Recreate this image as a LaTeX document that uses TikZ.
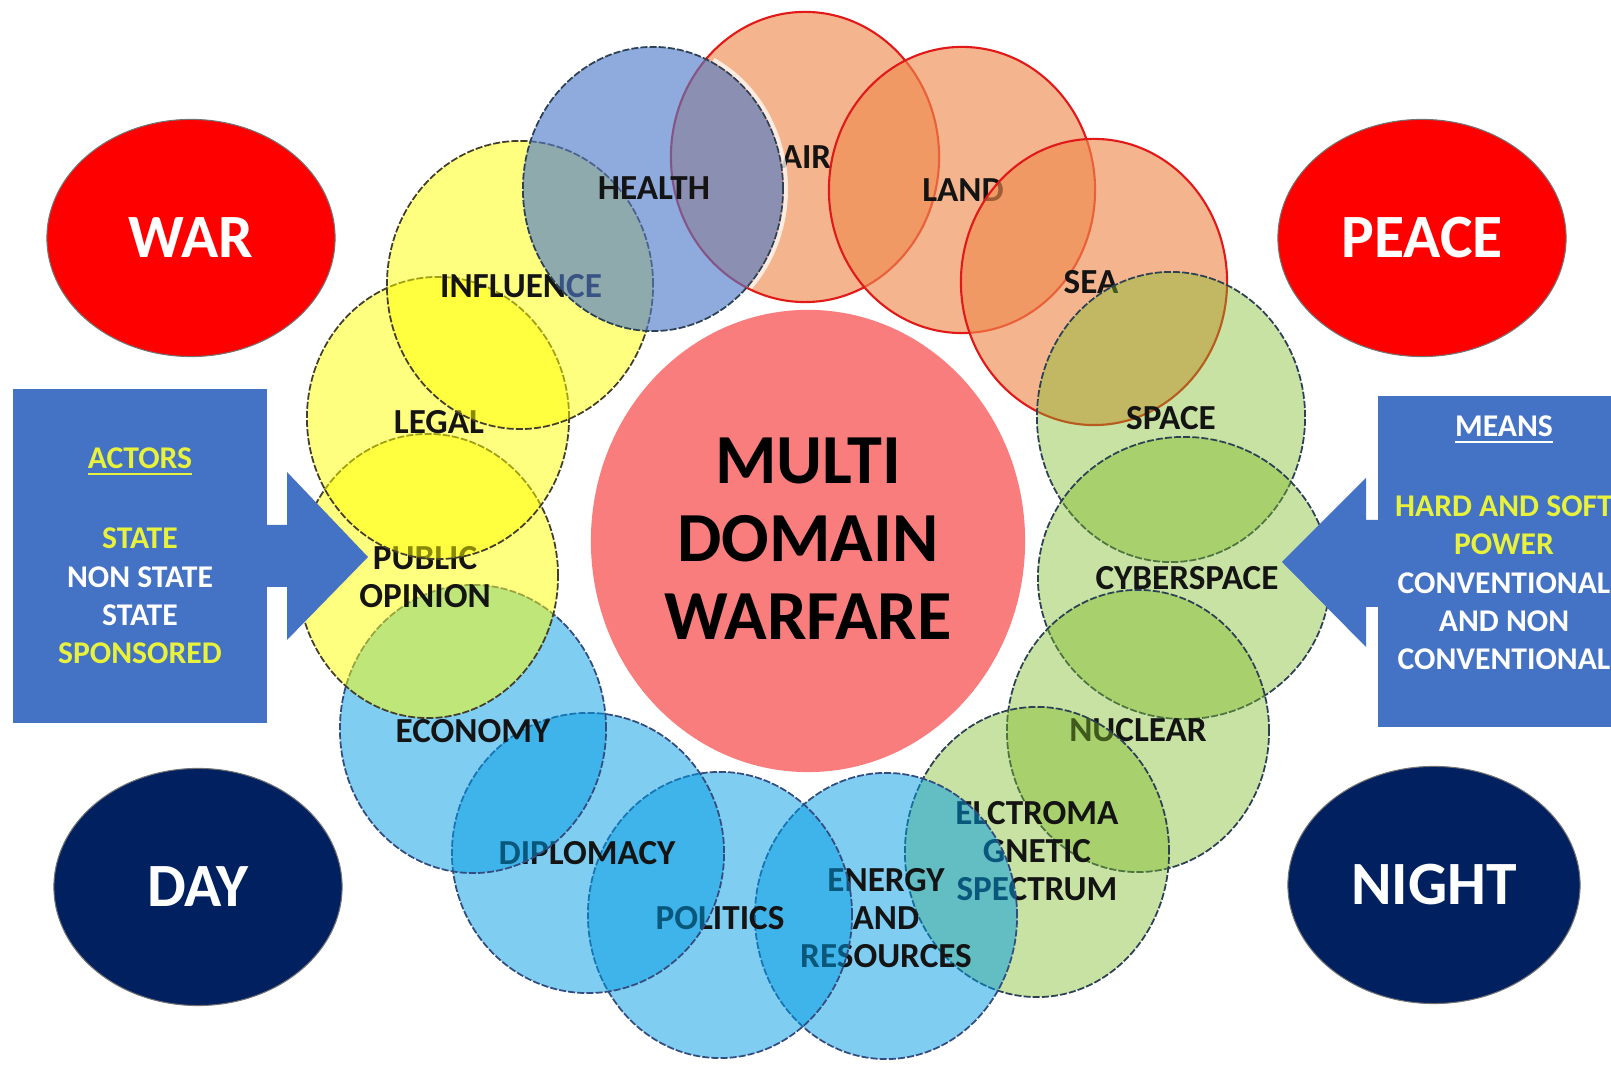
\documentclass[tikz,border=0pt]{standalone}
\usepackage{fontspec}
\setmainfont{Carlito}
\usetikzlibrary{shapes.geometric}
\definecolor{warred}{RGB}{255,0,0}
\definecolor{navyblue}{RGB}{0,32,96}
\definecolor{boxblue}{RGB}{68,114,196}
\definecolor{txtyellow}{RGB}{232,242,60}
\definecolor{mainpink}{RGB}{250,125,125}
\definecolor{orfill}{RGB}{238,138,77}
\definecolor{orline}{RGB}{225,25,25}
\definecolor{hfill}{RGB}{79,121,200}
\definecolor{yfill}{RGB}{255,255,0}
\definecolor{gfill}{RGB}{125,187,38}
\definecolor{bfill}{RGB}{0,156,229}
\definecolor{ringline}{RGB}{45,65,85}
\tikzset{
  cornerell/.style={ellipse, minimum width=2.88cm, minimum height=2.37cm, inner sep=0pt,
    draw=black!55, line width=0.3pt, text=white, font=\fontsize{17.5}{20}\selectfont\bfseries},
  dashring/.style={draw=ringline, line width=0.5pt, dash pattern=on 2pt off 0.6pt},
  orring/.style={fill=orfill, fill opacity=0.63, draw=orline, line width=0.6pt},
  hring/.style={dashring, fill=hfill, fill opacity=0.63},
  yring/.style={dashring, draw=black!70!olive, fill=yfill, fill opacity=0.5},
  gring/.style={dashring, fill=gfill, fill opacity=0.42},
  bring/.style={dashring, draw=navyblue!80, fill=bfill, fill opacity=0.5},
  lbl/.style={font=\fontsize{10}{10.9}\selectfont\bfseries, inner sep=0pt, align=center, text=black!92},
  maintxt/.style={font=\fontsize{20}{22.2}\selectfont\bfseries, inner sep=0pt, align=center, text=black},
  boxtxt/.style={font=\fontsize{9}{10.9}\selectfont\bfseries, inner sep=0pt, align=center, text=white},
  panel/.style={fill=boxblue, inner sep=0pt}
}
\begin{document}
\begin{tikzpicture}[x=0.01cm,y=-0.01cm]
\useasboundingbox (0,0) rectangle (1611,1065);
\clip (0,0) rectangle (1611,1065);
\fill[white] (0,0) rectangle (1611,1065);

% corner ellipses
\node[cornerell, fill=warred] (war) at (191,238) {WAR};
\node[cornerell, fill=warred] (peace) at (1422,238) {PEACE};
\node[cornerell, fill=navyblue] (day) at (198,887) {DAY};
\node[cornerell, fill=navyblue, minimum width=2.92cm] (night) at (1434,885) {NIGHT};

% central disc
\node[ellipse, fill=mainpink, minimum width=4.34cm, minimum height=4.62cm, inner sep=0pt] (core) at (808,541) {};
\node[maintxt] (coretxt) at (808,539) {MULTI\\DOMAIN\\WARFARE};

% ring of domains, drawn clockwise, each label under the next circle
\filldraw[orring] (805,157) ellipse [x radius=1.34cm, y radius=1.45cm];   % AIR
\node[lbl] (lair) at (806,157) {AIR};
\filldraw[orring] (962,190) ellipse [x radius=1.33cm, y radius=1.43cm];   % LAND
\node[lbl] (lland) at (963,190) {LAND};
\filldraw[orring] (1094,282) ellipse [x radius=1.33cm, y radius=1.43cm];  % SEA
\node[lbl] (lsea) at (1091,282) {SEA};
\filldraw[gring] (1171,417) ellipse [x radius=1.34cm, y radius=1.45cm];   % SPACE
\node[lbl] (lspace) at (1171,418) {SPACE};
\filldraw[gring] (1184,578) ellipse [x radius=1.46cm, y radius=1.41cm];   % CYBERSPACE
\node[lbl] (lcyber) at (1187,578) {CYBERSPACE};
\filldraw[gring] (1138,731) ellipse [x radius=1.31cm, y radius=1.41cm];   % NUCLEAR
\node[lbl] (lnuc) at (1138,730) {NUCLEAR};
\filldraw[gring] (1037,852) ellipse [x radius=1.32cm, y radius=1.45cm];   % ELECTROMAGNETIC
\node[lbl] (lelec) at (1037,851) {ELCTROMA\\GNETIC\\SPECTRUM};
\filldraw[bring] (886,916) ellipse [x radius=1.31cm, y radius=1.43cm];    % ENERGY
\node[lbl] (lenergy) at (886,918) {ENERGY\\AND\\RESOURCES};
\filldraw[bring] (720,915) ellipse [x radius=1.32cm, y radius=1.43cm];    % POLITICS
\node[lbl] (lpol) at (720,918) {POLITICS};
\filldraw[bring] (588,853) ellipse [x radius=1.36cm, y radius=1.40cm];    % DIPLOMACY
\node[lbl] (ldipl) at (587,853) {DIPLOMACY};
\filldraw[bring] (473,729) ellipse [x radius=1.33cm, y radius=1.44cm];    % ECONOMY
\node[lbl] (lecon) at (473,731) {ECONOMY};
\filldraw[yring] (428,576) ellipse [x radius=1.30cm, y radius=1.42cm];    % PUBLIC OPINION
\node[lbl] (lpublic) at (425,577) {PUBLIC\\OPINION};
\filldraw[yring] (438,418) ellipse [x radius=1.31cm, y radius=1.41cm];    % LEGAL
\node[lbl] (llegal) at (439,422) {LEGAL};
\filldraw[yring] (520,285) ellipse [x radius=1.33cm, y radius=1.44cm];    % INFLUENCE
\node[lbl] (linfl) at (521,286) {INFLUENCE};
\filldraw[hring] (653,189) ellipse [x radius=1.30cm, y radius=1.42cm];    % HEALTH
\draw[white, line width=1.1pt, opacity=0.75] (653,189) ++(-43:1.33cm and 1.45cm)
  arc [start angle=-43, end angle=63, x radius=1.33cm, y radius=1.45cm];
\node[lbl] (lhealth) at (654,188) {HEALTH};

% actors panel and arrow
\node[panel, minimum width=2.54cm, minimum height=3.34cm] (actorsbox) at (140,556) {};
\fill[boxblue] (250,525) -- (287,525) -- (287,472) -- (368,557) -- (287,640) -- (287,587) -- (250,587) -- cycle;
\node[boxtxt, text=txtyellow] (actorshead) at (140,462) {\underline{ACTORS}};
\node[boxtxt] (actorslist) at (140,596) {\textcolor{txtyellow}{STATE}\\NON STATE\\STATE\\\textcolor{txtyellow}{SPONSORED}};

% means panel and arrow
\node[panel, minimum width=2.62cm, minimum height=3.31cm] (meansbox) at (1509,561.5) {};
\fill[boxblue] (1390,520) -- (1366,520) -- (1366,478) -- (1282,562) -- (1366,647) -- (1366,607) -- (1390,607) -- cycle;
\node[boxtxt] (meanshead) at (1504,430) {\underline{MEANS}};
\node[boxtxt] (meanslist) at (1504,583) {\textcolor{txtyellow}{HARD AND SOFT}\\\textcolor{txtyellow}{POWER}\\CONVENTIONAL\\AND NON\\CONVENTIONAL};
\end{tikzpicture}
\end{document}
